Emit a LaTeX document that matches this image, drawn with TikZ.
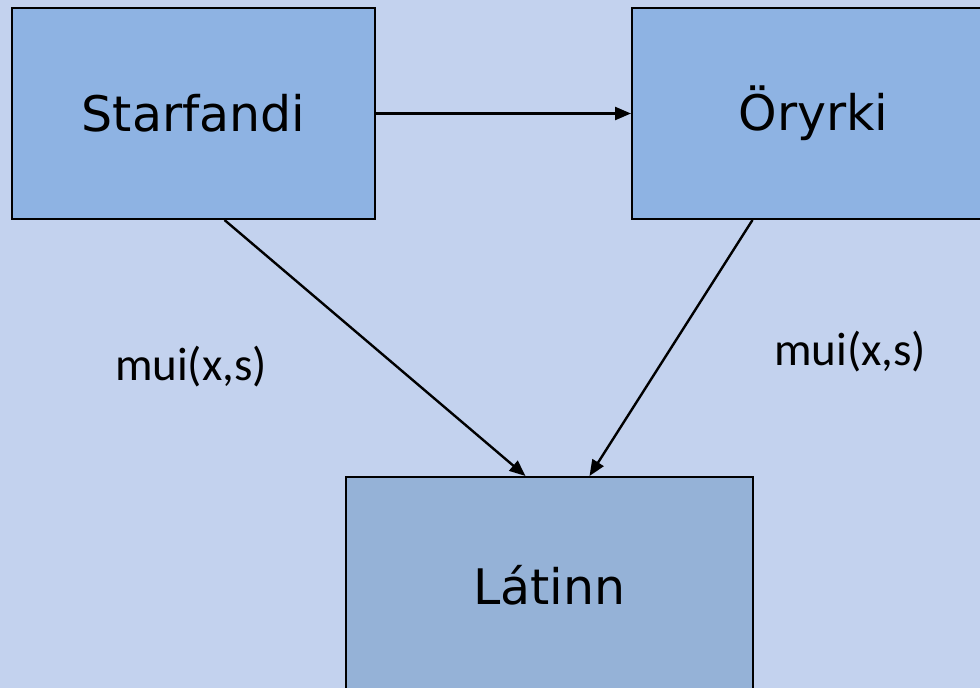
\documentclass[tikz,border=0pt]{standalone}
\usepackage{fontspec}
\setmainfont{DejaVu Sans}
\newfontfamily\lblfont{Carlito}
\definecolor{bgblue}{RGB}{195, 210, 238}
\definecolor{boxblue}{RGB}{142, 179, 227}
\definecolor{sinkblue}{RGB}{149, 178, 215}
\usetikzlibrary{arrows.meta, positioning}

\begin{document}
\begin{tikzpicture}[x=1pt, y=-1pt,
node distance = 2mm,
   state/.style = {rectangle, draw=black, line width=2pt, fill=#1,
                   minimum width=363pt, minimum height=211pt,
                   font=\fontsize{49}{58}\selectfont, inner sep=0pt},
   trans/.style = {draw, line width=2.4pt,
                   -{Triangle[length=16pt, width=13pt]}},
    rate/.style = {font=\lblfont\fontsize{47}{56}\selectfont, anchor=base}
                   ]
\path[use as bounding box, fill=bgblue] (0,0) rectangle (980,688);
\clip (0,0) rectangle (980,688);

\node[state=boxblue] (starf) at (193.5,113.5) {Starfandi};
\node[state=boxblue, right=255pt of starf] (oryrki) {Öryrki};
\node[state=sinkblue, minimum width=407pt, minimum height=216pt,
      anchor=north west] (latinn) at (345,476) {Látinn};

\draw[trans] (starf) -- (oryrki);
\draw[trans] ([xshift=31pt]starf.south) -- ([xshift=-24pt]latinn.north);
\draw[trans] ([xshift=-61pt]oryrki.south) -- ([xshift=40pt]latinn.north);

\node[rate] (rateA) at (191,380) {mui(x,s)};
\node[rate] (rateB) at (850,365) {mui(x,s)};
\end{tikzpicture}
\end{document}
